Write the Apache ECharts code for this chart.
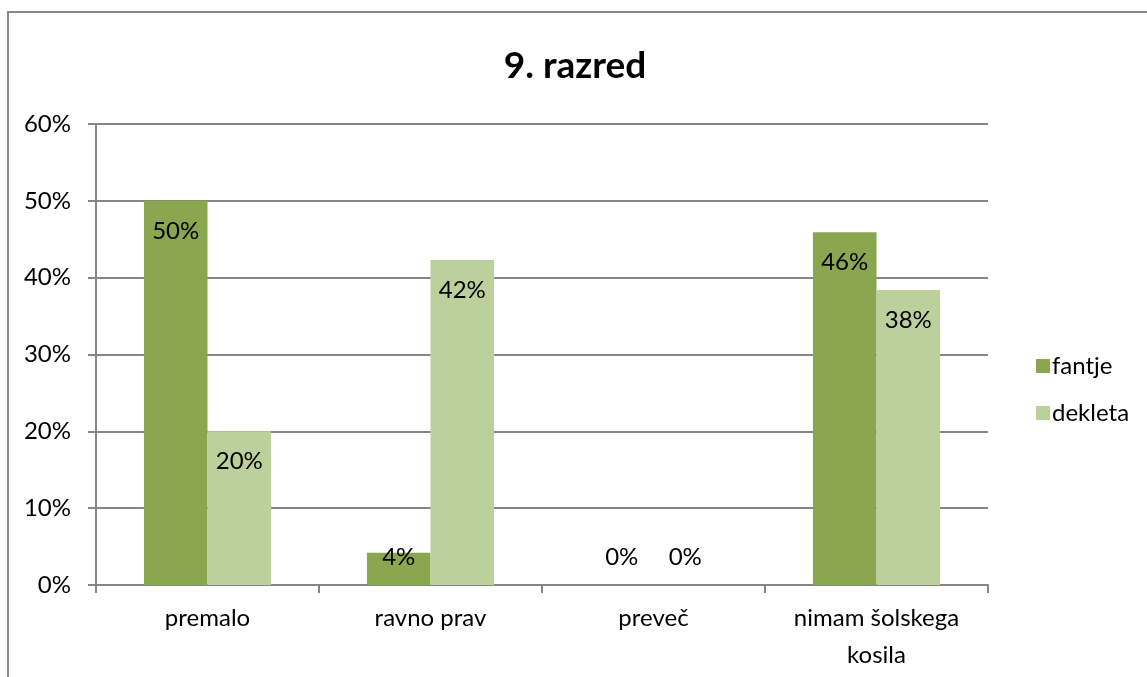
<!DOCTYPE html>
<html>
<head>
<meta charset="utf-8">
<script src="https://cdn.jsdelivr.net/npm/echarts@6/dist/echarts.min.js"></script>
<style>
  html, body { margin: 0; padding: 0; background: #fff; }
  #chart { width: 1147px; height: 677px; }
</style>
</head>
<body>
<div id="chart"></div>
<script>
// Survey answers per category, in percent
const categories = ['premalo', 'ravno prav', 'preveč', 'nimam šolskega\nkosila'];
const seriesNames = ['fantje', 'dekleta'];
const fantje = [50, 4.2, 0, 45.9];
const dekleta = [20, 42.3, 0, 38.4];
const yTicks = [0, 10, 20, 30, 40, 50, 60];

const FONT = 'Lato, "Open Sans", sans-serif';
const colors = ['#8aa64f', '#bbd09a'];

// Short bars get their label above the base; taller ones inside the top end
function toData(values) {
  return values.map(v => {
    if (v < 8) {
      return { value: v, label: { position: 'insideBottom', distance: 16 } };
    }
    return { value: v };
  });
}

const chart = echarts.init(document.getElementById('chart'));
chart.setOption({
  animation: false,
  backgroundColor: '#ffffff',
  title: {
    text: '9. razred',
    left: 570,
    top: 43,
    textAlign: 'center',
    textStyle: { fontFamily: FONT, fontSize: 37, fontWeight: 'bold', color: '#000' }
  },
  graphic: [{
    type: 'rect',
    shape: { x: 8, y: 12, width: 1160, height: 700 },
    style: { fill: 'none', stroke: '#8a8a8a', lineWidth: 2 },
    silent: true
  }],
  legend: {
    orient: 'vertical',
    left: 1031,
    top: 349,
    itemWidth: 14,
    itemHeight: 14,
    itemGap: 23,
    icon: 'rect',
    textStyle: { fontFamily: FONT, fontSize: 24, lineHeight: 24, color: '#000', padding: [0, 0, 0, -3] },
    data: seriesNames
  },
  grid: { left: 96, right: 159, top: 124, bottom: 92, containLabel: false },
  xAxis: {
    type: 'category',
    data: categories,
    axisLine: { lineStyle: { color: '#868686', width: 2 } },
    axisTick: { show: true, length: 8, alignWithLabel: false, lineStyle: { color: '#868686', width: 2 } },
    axisLabel: {
      fontFamily: FONT, fontSize: 24, color: '#000', margin: 15, lineHeight: 37
    }
  },
  yAxis: {
    type: 'value',
    min: yTicks[0],
    max: yTicks[yTicks.length - 1],
    interval: 10,
    axisLine: { show: true, lineStyle: { color: '#868686', width: 2 } },
    axisTick: { show: true, length: 8, lineStyle: { color: '#868686', width: 2 } },
    splitLine: { lineStyle: { color: '#868686', width: 2 } },
    axisLabel: {
      fontFamily: FONT, fontSize: 24, color: '#000', margin: 25,
      formatter: v => v + '%'
    }
  },
  series: [fantje, dekleta].map((vals, i) => ({
    name: seriesNames[i],
    type: 'bar',
    data: toData(vals),
    barGap: '0%',
    barCategoryGap: '43%',
    itemStyle: { color: colors[i] },
    label: {
      show: true,
      position: 'insideTop',
      distance: 18,
      fontFamily: FONT,
      fontSize: 24,
      color: '#000',
      formatter: p => Math.round(p.value) + '%'
    }
  }))
});
</script>
</body>
</html>
